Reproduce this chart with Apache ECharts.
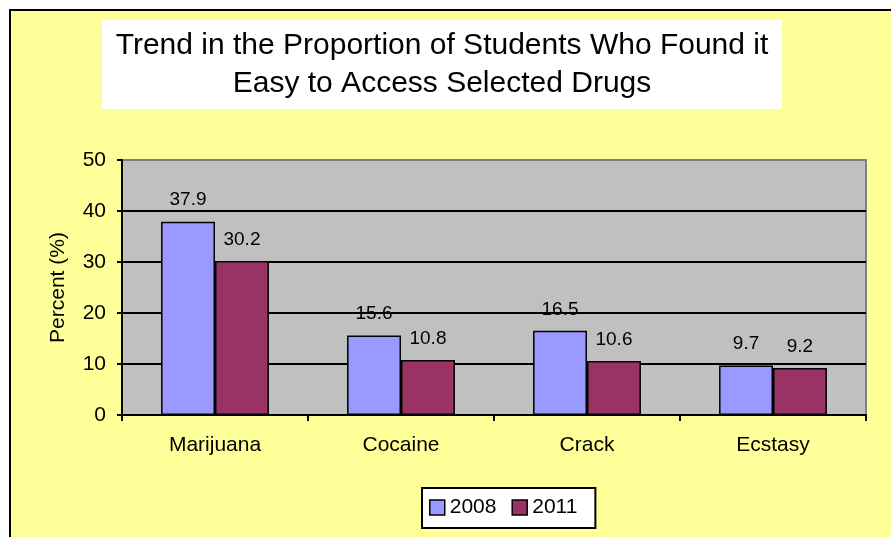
<!DOCTYPE html>
<html>
<head>
<meta charset="utf-8">
<script src="https://cdn.jsdelivr.net/npm/echarts@6/dist/echarts.min.js"></script>
<style>
html,body{margin:0;padding:0;background:#fff;}
#c{width:891px;height:537px;}
</style>
</head>
<body>
<div id="c"></div>
<script>
const titleLines = ['Trend in the Proportion of Students Who Found it', 'Easy to Access Selected Drugs'];
const categories = ['Marijuana', 'Cocaine', 'Crack', 'Ecstasy'];
const seriesNames = ['2008', '2011'];
const values2008 = [37.9, 15.6, 16.5, 9.7];
const values2011 = [30.2, 10.8, 10.6, 9.2];
const yTicks = {min: 0, max: 50, interval: 10};
const yName = 'Percent (%)';

const FONT = 'Liberation Sans, Arial, sans-serif';
const chart = echarts.init(document.getElementById('c'));
const labelCfg = {show: true, position: 'top', distance: 12, color: '#000', fontSize: 19, fontFamily: FONT};
chart.setOption({
  backgroundColor: '#fff',
  animation: false,
  graphic: [
    {type: 'rect', z: -10, silent: true, shape: {x: 10, y: 10, width: 1000, height: 1000},
     style: {fill: '#FFFF99', stroke: '#000', lineWidth: 2}},
    {type: 'rect', z: -5, silent: true, shape: {x: 102, y: 20, width: 680, height: 89},
     style: {fill: '#fff'}},
    {type: 'text', z: 5, silent: true, x: 442, y: 65,
     style: {text: titleLines.join('\n'), fill: '#000', font: '30px ' + FONT, lineHeight: 38,
             align: 'center', verticalAlign: 'middle'}}
  ],
  grid: {left: 122, top: 160, right: 25, bottom: 122, show: true, backgroundColor: '#C0C0C0',
         borderColor: '#808080', borderWidth: 2},
  legend: {
    data: seriesNames, left: 422, top: 488, orient: 'horizontal', icon: 'rect',
    backgroundColor: '#fff', borderColor: '#000', borderWidth: 2, borderRadius: 0,
    padding: [9, 18, 10, 7], itemWidth: 15, itemHeight: 15, itemGap: 15,
    itemStyle: {borderColor: '#000', borderWidth: 1.5},
    textStyle: {fontSize: 21, color: '#000', fontFamily: FONT}
  },
  xAxis: {
    type: 'category', data: categories,
    axisLine: {lineStyle: {color: '#000', width: 2}},
    axisTick: {show: true, length: 6, lineStyle: {color: '#000', width: 2}},
    axisLabel: {fontSize: 21, color: '#000', margin: 20, fontFamily: FONT},
    splitLine: {show: false}
  },
  yAxis: {
    type: 'value', min: yTicks.min, max: yTicks.max, interval: yTicks.interval,
    name: yName, nameLocation: 'middle', nameGap: 53,
    nameTextStyle: {fontSize: 21, color: '#000', fontFamily: FONT},
    axisLine: {show: true, lineStyle: {color: '#000', width: 2}},
    axisTick: {show: true, length: 5, lineStyle: {color: '#000', width: 2}},
    axisLabel: {fontSize: 21, color: '#000', margin: 16, fontFamily: FONT},
    splitLine: {show: true, lineStyle: {color: ['#000', '#000', '#000', '#000', '#000', '#808080'], width: 2}}
  },
  series: [
    {name: seriesNames[0], type: 'bar', data: values2008, barGap: '0%', barCategoryGap: '42%',
     itemStyle: {color: '#9999FF', borderColor: '#000', borderWidth: 1.5}, label: labelCfg},
    {name: seriesNames[1], type: 'bar', data: values2011, barGap: '0%', barCategoryGap: '42%',
     itemStyle: {color: '#993366', borderColor: '#000', borderWidth: 1.5}, label: labelCfg}
  ]
});
</script>
</body>
</html>
